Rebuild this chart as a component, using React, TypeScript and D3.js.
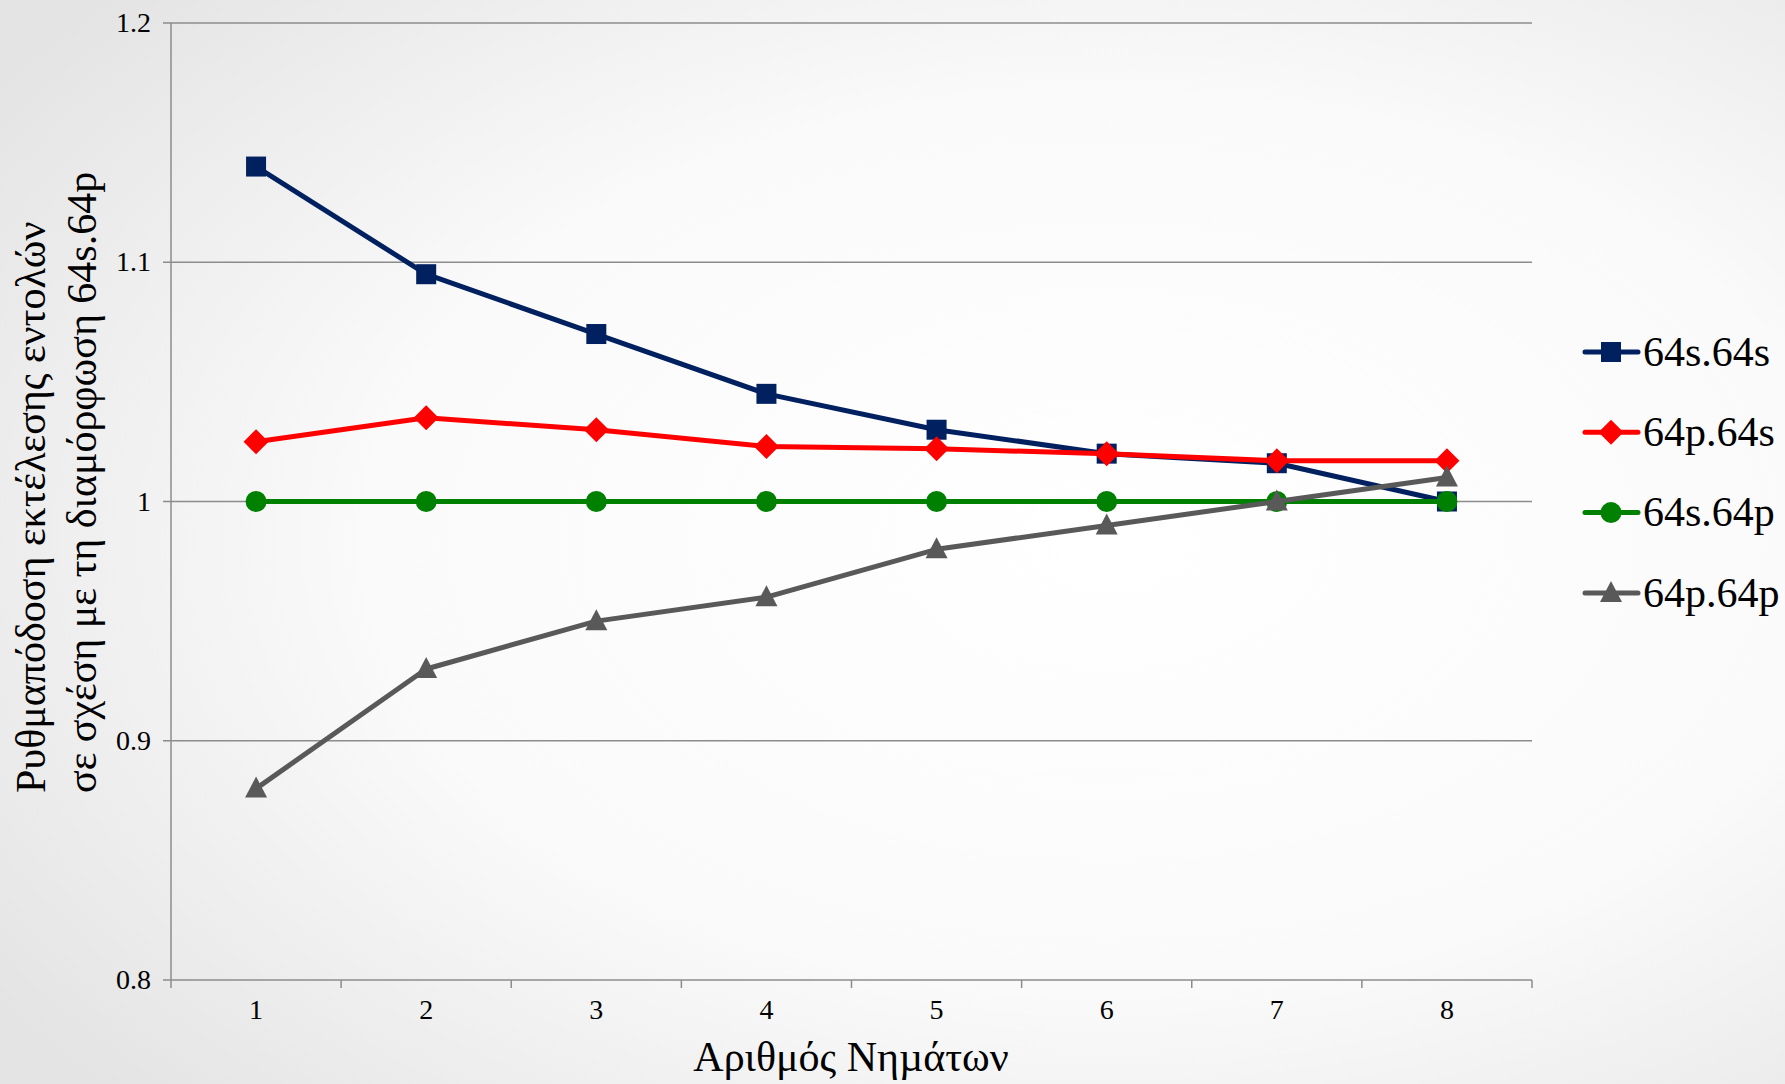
import React from "react";
import * as d3 from "d3";

const threads = [1, 2, 3, 4, 5, 6, 7, 8];
const s64s64 = [1.14, 1.095, 1.07, 1.045, 1.03, 1.02, 1.016, 1.0];
const p64s64 = [1.025, 1.035, 1.03, 1.023, 1.022, 1.02, 1.017, 1.017];
const s64p64 = [1.0, 1.0, 1.0, 1.0, 1.0, 1.0, 1.0, 1.0];
const p64p64 = [0.88, 0.93, 0.95, 0.96, 0.98, 0.99, 1.0, 1.01];
const yTicks = [0.8, 0.9, 1.0, 1.1, 1.2];
const yTickLabels = ["0.8", "0.9", "1", "1.1", "1.2"];

type Shape = "square" | "diamond" | "circle" | "triangle";
const series: { name: string; values: number[]; color: string; shape: Shape }[] = [
  { name: "64s.64s", values: s64s64, color: "#002060", shape: "square" },
  { name: "64p.64s", values: p64s64, color: "#ff0000", shape: "diamond" },
  { name: "64s.64p", values: s64p64, color: "#008000", shape: "circle" },
  { name: "64p.64p", values: p64p64, color: "#595959", shape: "triangle" },
];

const W = 1785;
const H = 1084;
const plot = { left: 171, right: 1532, top: 23, bottom: 980 };
const serif = { fontFamily: '"Liberation Serif", "DejaVu Serif", serif' };

function Marker({ shape, x, y, color }: { shape: Shape; x: number; y: number; color: string }) {
  if (shape === "square") return <rect x={x - 10} y={y - 10} width={20} height={20} fill={color} />;
  if (shape === "diamond")
    return <path d={`M${x},${y - 12.5}L${x + 12.5},${y}L${x},${y + 12.5}L${x - 12.5},${y}Z`} fill={color} />;
  if (shape === "circle") return <circle cx={x} cy={y} r={10.5} fill={color} />;
  return <path d={`M${x},${y - 12}L${x + 11},${y + 9}L${x - 11},${y + 9}Z`} fill={color} />;
}

export default function App() {
  const x = d3
    .scaleBand<number>()
    .domain(threads)
    .range([plot.left, plot.right]);
  const y = d3.scaleLinear().domain([0.8, 1.2]).range([plot.bottom, plot.top]);
  const cx = (t: number) => (x(t) as number) + x.bandwidth() / 2;
  const line = d3
    .line<number>()
    .x((_, i) => cx(threads[i]))
    .y((v) => y(v));
  const boundaries = d3.range(threads.length + 1).map((i) => plot.left + i * x.bandwidth());
  const gridColor = "#8c8c8c";

  return (
    <svg
      width={W}
      height={H}
      style={{ position: "absolute", left: 0, top: 0, display: "block" }}
    >
      <defs>
        <radialGradient id="bg" cx="0.62" cy="0.5" r="0.75">
          <stop offset="0" stopColor="#ffffff" />
          <stop offset="0.55" stopColor="#fafafa" />
          <stop offset="1" stopColor="#e4e4e4" />
        </radialGradient>
      </defs>
      <rect width={W} height={H} fill="url(#bg)" />

      {/* horizontal gridlines and y ticks */}
      {yTicks.map((t, i) => (
        <g key={t}>
          <line x1={plot.left - 8} x2={plot.right} y1={y(t)} y2={y(t)} stroke={gridColor} strokeWidth={1.5} />
          <text x={151} y={y(t)} dy="0.33em" textAnchor="end" fontSize={28} fill="#000" style={serif}>
            {yTickLabels[i]}
          </text>
        </g>
      ))}
      {/* y axis line */}
      <line x1={plot.left} x2={plot.left} y1={plot.top} y2={plot.bottom} stroke={gridColor} strokeWidth={1.5} />
      {/* x tick marks */}
      {boundaries.map((b, i) => (
        <line key={i} x1={b} x2={b} y1={plot.bottom} y2={plot.bottom + 8} stroke={gridColor} strokeWidth={1.5} />
      ))}
      {threads.map((t) => (
        <text key={t} x={cx(t)} y={1019} textAnchor="middle" fontSize={28} fill="#000" style={serif}>
          {t}
        </text>
      ))}

      {/* series */}
      {series.map((s) => (
        <g key={s.name}>
          <path d={line(s.values) || ""} fill="none" stroke={s.color} strokeWidth={5} strokeLinejoin="round" />
          {s.values.map((v, i) => (
            <Marker key={i} shape={s.shape} x={cx(threads[i])} y={y(v)} color={s.color} />
          ))}
        </g>
      ))}

      {/* axis titles */}
      <text x={851} y={1071} textAnchor="middle" fontSize={42} fill="#000" style={serif}>
        Αριθμός Νηµάτων
      </text>
      <g transform="translate(31,793) rotate(-90)">
        <text x={0} y={0} dy="0.33em" textAnchor="start" fontSize={42} fill="#000" style={serif}>
          Ρυθμαπόδοση εκτέλεσης εντολών
        </text>
      </g>
      <g transform="translate(82,793) rotate(-90)">
        <text x={0} y={0} dy="0.33em" textAnchor="start" fontSize={42} fill="#000" style={serif}>
          σε σχέση με τη διαμόρφωση 64s.64p
        </text>
      </g>

      {/* legend */}
      {series.map((s, i) => {
        const ly = 352 + i * 80.3;
        return (
          <g key={s.name}>
            <line x1={1585} x2={1638} y1={ly} y2={ly} stroke={s.color} strokeWidth={5} strokeLinecap="round" />
            <Marker shape={s.shape} x={1611} y={ly} color={s.color} />
            <text x={1643} y={ly} dy="0.33em" fontSize={42} fill="#000" style={serif}>
              {s.name}
            </text>
          </g>
        );
      })}
    </svg>
  );
}
